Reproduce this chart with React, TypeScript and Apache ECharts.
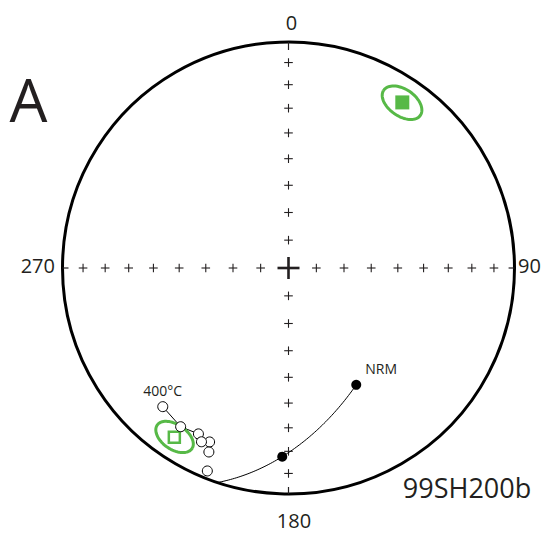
import React, { useEffect, useRef } from "react";
import * as echarts from "echarts";

// Demagnetisation directions (declination, inclination in degrees)
const OPEN_DEC = [222.2, 214.2, 208.5, 204.4, 206.6, 203.4, 201.8];
const OPEN_INC = [-18.3, -16.2, -17.6, -16.6, -15.1, -12.3, -3.7];
const FILLED_DEC = [149.9, 181.9];
const FILLED_INC = [40.0, 17.6];
const FILLED_LABELS = ["NRM", ""];
const OPEN_LABELS = ["400°C", "", "", "", "", "", ""];
// Mean directions with alpha95 cones
const MEAN_DEC = [34.5, 214.0];
const MEAN_INC = [12.1, -10.6];
const MEAN_A95 = [6.2, 5.8];
// Net ticks
const TICK_INC = [80, 70, 60, 50, 40, 30, 20, 10];
const TICK_DEC = [0, 90, 180, 270];
const CARDINALS = ["0", "90", "180", "270"];

const D2R = Math.PI / 180;
const GREEN = "#57b947";
const INK = "#231f20";
const FONT = "Open Sans";

type V3 = [number, number, number];

function toVec(dec: number, inc: number): V3 {
  return [
    Math.cos(inc * D2R) * Math.cos(dec * D2R),
    Math.cos(inc * D2R) * Math.sin(dec * D2R),
    Math.sin(inc * D2R),
  ];
}
function norm(v: V3): V3 {
  const l = Math.hypot(v[0], v[1], v[2]);
  return [v[0] / l, v[1] / l, v[2] / l];
}
function cross(a: V3, b: V3): V3 {
  return [a[1] * b[2] - a[2] * b[1], a[2] * b[0] - a[0] * b[2], a[0] * b[1] - a[1] * b[0]];
}
// Equal-area (Schmidt) projection, unit primitive
function projVec(v0: V3): [number, number] {
  const v = norm(v0);
  const h = Math.hypot(v[0], v[1]);
  const r = Math.sqrt(Math.max(0, 1 - Math.abs(v[2])));
  if (h < 1e-12) return [0, 0];
  return [(r * v[1]) / h, (r * v[0]) / h];
}
function proj(dec: number, inc: number): [number, number] {
  return projVec(toVec(dec, inc));
}

// Great circle through NRM and the next step, down to the horizontal plane
function greatCircleArc(): [number, number][] {
  const a = toVec(FILLED_DEC[0], FILLED_INC[0]);
  const b = toVec(FILLED_DEC[1], FILLED_INC[1]);
  const d = a[0] * b[0] + a[1] * b[1] + a[2] * b[2];
  const w = norm([b[0] - d * a[0], b[1] - d * a[1], b[2] - d * a[2]]);
  let tEnd = Math.atan2(a[2], -w[2]);
  if (tEnd < 0) tEnd += 2 * Math.PI;
  const pts: [number, number][] = [];
  const n = 80;
  for (let i = 0; i <= n; i++) {
    const t = (tEnd * i) / n;
    const v: V3 = [
      Math.cos(t) * a[0] + Math.sin(t) * w[0],
      Math.cos(t) * a[1] + Math.sin(t) * w[1],
      Math.cos(t) * a[2] + Math.sin(t) * w[2],
    ];
    pts.push(projVec(v));
  }
  return pts;
}

// Projected cone of confidence
function cone(dec: number, inc: number, a95: number): [number, number][] {
  const m = toVec(dec, inc);
  const p1 = norm(cross(m, [0, 0, 1]));
  const p2 = norm(cross(m, p1));
  const ca = Math.cos(a95 * D2R);
  const sa = Math.sin(a95 * D2R);
  const pts: [number, number][] = [];
  for (let k = 0; k <= 72; k++) {
    const f = (k * 5) * D2R;
    const v: V3 = [
      ca * m[0] + sa * (Math.cos(f) * p1[0] + Math.sin(f) * p2[0]),
      ca * m[1] + sa * (Math.cos(f) * p1[1] + Math.sin(f) * p2[1]),
      ca * m[2] + sa * (Math.cos(f) * p1[2] + Math.sin(f) * p2[2]),
    ];
    pts.push(projVec(v));
  }
  return pts;
}

export default function App() {
  const ref = useRef<HTMLDivElement>(null);
  useEffect(() => {
    if (!ref.current) return;
    const chart = echarts.init(ref.current, null, { renderer: "svg" });

    const tickPts = TICK_DEC.flatMap((d) => TICK_INC.map((i) => proj(d, i)));
    const openPts = OPEN_DEC.map((d, i) => ({
      value: proj(d, OPEN_INC[i]),
      label: OPEN_LABELS[i]
        ? {
            show: true,
            formatter: OPEN_LABELS[i],
            position: "top",
            distance: 4,
            fontSize: 14,
            fontFamily: FONT,
            color: INK,
          }
        : { show: false },
    }));
    const filledPts = FILLED_DEC.map((d, i) => ({
      value: proj(d, FILLED_INC[i]),
      label: FILLED_LABELS[i]
        ? {
            show: true,
            formatter: FILLED_LABELS[i],
            position: "right",
            distance: 5,
            offset: [-1, -16],
            fontSize: 14,
            fontFamily: FONT,
            color: INK,
          }
        : { show: false },
    }));
    const connect = openPts.slice(0, 3).map((p) => p.value);

    const option: any = {
      animation: false,
      backgroundColor: "#ffffff",
      grid: { left: 62.5, top: 42, width: 452, height: 452 },
      xAxis: { type: "value", min: -1, max: 1, show: false },
      yAxis: { type: "value", min: -1, max: 1, show: false },
      graphic: [
        { type: "text", x: 28.5, y: 99, style: { text: "A", fontSize: 60, fontFamily: FONT, fill: INK, align: "center", verticalAlign: "middle" } },
        { type: "text", x: 291.5, y: 22.5, style: { text: CARDINALS[0], fontSize: 20, fontFamily: FONT, fill: INK, align: "center", verticalAlign: "middle" } },
        { type: "text", x: 518, y: 265, style: { text: CARDINALS[1], fontSize: 20, fontFamily: FONT, fill: INK, align: "left", verticalAlign: "middle" } },
        { type: "text", x: 294, y: 520.5, style: { text: CARDINALS[2], fontSize: 20, fontFamily: FONT, fill: INK, align: "center", verticalAlign: "middle" } },
        { type: "text", x: 55, y: 265, style: { text: CARDINALS[3], fontSize: 20, fontFamily: FONT, fill: INK, align: "right", verticalAlign: "middle" } },
        { type: "text", x: 467, y: 487, style: { text: "99SH200b", fontSize: 27, fontFamily: FONT, fill: INK, align: "center", verticalAlign: "middle" } },
      ],
      series: [
        {
          type: "custom",
          name: "frame",
          coordinateSystem: "cartesian2d",
          data: [[0, 0]],
          silent: true,
          z: 1,
          renderItem: (params: any, api: any) => {
            const c = api.coord([0, 0]);
            const e = api.coord([1, 0]);
            const R = e[0] - c[0];
            const tl = 7;
            const ls = { stroke: INK, lineWidth: 1.2 };
            return {
              type: "group",
              children: [
                { type: "circle", shape: { cx: c[0], cy: c[1], r: R }, style: { fill: "none", stroke: "#000", lineWidth: 3 } },
                { type: "line", shape: { x1: c[0], y1: c[1] - R, x2: c[0], y2: c[1] - R + tl + 1 }, style: ls },
                { type: "line", shape: { x1: c[0], y1: c[1] + R, x2: c[0], y2: c[1] + R - tl }, style: ls },
                { type: "line", shape: { x1: c[0] - R, y1: c[1], x2: c[0] - R + tl - 1, y2: c[1] }, style: ls },
                { type: "line", shape: { x1: c[0] + R, y1: c[1], x2: c[0] + R - tl + 1, y2: c[1] }, style: ls },
                { type: "line", shape: { x1: c[0] - 11, y1: c[1], x2: c[0] + 11, y2: c[1] }, style: { stroke: INK, lineWidth: 2.6 } },
                { type: "line", shape: { x1: c[0], y1: c[1] - 11, x2: c[0], y2: c[1] + 11 }, style: { stroke: INK, lineWidth: 2.6 } },
              ],
            };
          },
        },
        {
          type: "custom",
          name: "ticks",
          coordinateSystem: "cartesian2d",
          data: tickPts,
          silent: true,
          z: 1,
          renderItem: (params: any, api: any) => {
            const p = api.coord([api.value(0), api.value(1)]);
            const s = 4.3;
            const st = { stroke: INK, lineWidth: 1.1 };
            return {
              type: "group",
              children: [
                { type: "line", shape: { x1: p[0] - s, y1: p[1], x2: p[0] + s, y2: p[1] }, style: st },
                { type: "line", shape: { x1: p[0], y1: p[1] - s, x2: p[0], y2: p[1] + s }, style: st },
              ],
            };
          },
        },
        {
          type: "line",
          name: "great circle",
          data: greatCircleArc(),
          showSymbol: false,
          symbol: "none",
          lineStyle: { color: "#000", width: 1 },
          z: 2,
        },
        {
          type: "line",
          name: "path",
          data: connect,
          showSymbol: false,
          symbol: "none",
          lineStyle: { color: "#000", width: 1 },
          z: 2,
        },
        ...MEAN_DEC.map((d, i) => ({
          type: "line",
          name: "a95-" + i,
          data: cone(d, MEAN_INC[i], MEAN_A95[i]),
          showSymbol: false,
          symbol: "none",
          smooth: false,
          lineStyle: { color: GREEN, width: 3 },
          z: 3,
        })),
        {
          type: "scatter",
          name: "mean lower",
          data: MEAN_DEC.map((d, i) => ({ d, i })).filter((o) => MEAN_INC[o.i] >= 0).map((o) => proj(o.d, MEAN_INC[o.i])),
          symbol: "rect",
          symbolSize: 14,
          itemStyle: { color: GREEN, opacity: 1 },
          z: 4,
        },
        {
          type: "scatter",
          name: "mean upper",
          data: MEAN_DEC.map((d, i) => ({ d, i })).filter((o) => MEAN_INC[o.i] < 0).map((o) => proj(o.d, MEAN_INC[o.i])),
          symbol: "rect",
          symbolSize: 11,
          itemStyle: { color: "#fff", borderColor: GREEN, borderWidth: 2.5, opacity: 1 },
          z: 4,
        },
        {
          type: "scatter",
          name: "upper",
          data: openPts,
          symbol: "circle",
          symbolSize: 10,
          itemStyle: { color: "#fff", borderColor: "#000", borderWidth: 1, opacity: 1 },
          z: 5,
        },
        {
          type: "scatter",
          name: "lower",
          data: filledPts,
          symbol: "circle",
          symbolSize: 10,
          itemStyle: { color: "#000", opacity: 1 },
          z: 5,
        },
      ],
    };
    chart.setOption(option);
    return () => chart.dispose();
  }, []);
  return (
    <div
      ref={ref}
      style={{ position: "fixed", left: 0, top: 0, width: 552, height: 537, background: "#fff" }}
    />
  );
}
